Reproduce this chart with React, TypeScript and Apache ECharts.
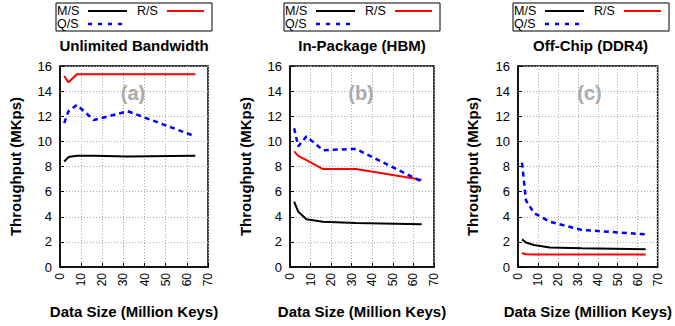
import React, { useEffect, useRef } from "react";
import * as echarts from "echarts";

const xs = [2, 4, 8, 16, 32, 64];
const msA = [8.4, 8.75, 8.85, 8.85, 8.8, 8.85];
const rsA = [15.2, 14.7, 15.35, 15.35, 15.35, 15.35];
const qsA = [11.45, 12.4, 12.9, 11.7, 12.4, 10.4];
const msB = [5.2, 4.4, 3.8, 3.6, 3.5, 3.4];
const rsB = [9.2, 8.85, 8.5, 7.8, 7.8, 6.95];
const qsB = [11.05, 9.6, 10.4, 9.3, 9.4, 6.8];
const msC = [2.2, 1.95, 1.75, 1.55, 1.5, 1.42];
const rsC = [1.12, 1.02, 1.0, 1.0, 1.0, 1.0];
const qsC = [8.3, 5.3, 4.3, 3.6, 2.95, 2.6];

const titles = ["Unlimited Bandwidth", "In-Package (HBM)", "Off-Chip (DDR4)"];
const tags = ["(a)", "(b)", "(c)"];
const seriesNames = ["M/S", "R/S", "Q/S"];
const yTicks = { min: 0, max: 16, interval: 2 };
const xTicks = { min: 0, max: 70, interval: 10 };

const FONT = "'Liberation Sans', Arial, Helvetica, sans-serif";
const grids = [
  { left: 60, width: 148, nameGap: 37 },
  { left: 290, width: 144, nameGap: 37 },
  { left: 518, width: 145, nameGap: 38 },
];
const legendX = [56, 284, 513];
const colors = ["#000000", "#ff0000", "#0000ff"];

function pairs(vals: number[]) {
  return xs.map((x, i) => [x, vals[i]]);
}

export default function App() {
  const ref = useRef<HTMLDivElement>(null);
  useEffect(() => {
    document.body.style.margin = "0";
    const chart = echarts.init(ref.current!, null, { renderer: "svg" });
    const data = [
      [msA, rsA, qsA],
      [msB, rsB, qsB],
      [msC, rsC, qsC],
    ];
    const series: any[] = [];
    data.forEach((panel, p) => {
      panel.forEach((vals, s) => {
        series.push({
          type: "line",
          name: seriesNames[s],
          xAxisIndex: p,
          yAxisIndex: p,
          data: pairs(vals),
          symbol: "none",
          z: s === 2 ? 4 : 3,
          lineStyle: {
            color: colors[s],
            width: s === 2 ? 2.5 : 2,
            type: s === 2 ? [5, 4] : "solid",
          },
        });
      });
    });

    const legText = (text: string, x: number, y: number) => ({
      type: "text",
      x,
      y,
      style: {
        text,
        font: `12.5px ${FONT}`,
        lineHeight: 12,
        fill: "#000",
        verticalAlign: "middle",
      },
    });

    const graphic: any[] = [];
    legendX.forEach((lx, p) => {
      const center = grids[p].left + grids[p].width / 2;
      graphic.push(
        {
          type: "rect",
          shape: { x: lx, y: 3, width: 156, height: 28 },
          style: { fill: "#fff", stroke: "#000", lineWidth: 1 },
        },
        legText(seriesNames[0], lx + 1, 10.5),
        {
          type: "line",
          shape: { x1: lx + 32, y1: 11, x2: lx + 71, y2: 11 },
          style: { stroke: colors[0], lineWidth: 2 },
        },
        legText(seriesNames[1], lx + 81, 10.5),
        {
          type: "line",
          shape: { x1: lx + 111, y1: 11, x2: lx + 148, y2: 11 },
          style: { stroke: colors[1], lineWidth: 2 },
        },
        legText(seriesNames[2], lx + 1, 24),
        {
          type: "line",
          shape: { x1: lx + 32, y1: 24, x2: lx + 66, y2: 24 },
          style: { stroke: colors[2], lineWidth: 2.5, lineDash: [4, 6] },
        },
        {
          type: "text",
          x: center,
          y: 45,
          style: {
            text: titles[p],
            font: `bold 15px ${FONT}`,
            fill: "#000",
            align: "center",
            verticalAlign: "middle",
          },
        },
        {
          type: "text",
          x: center - 1,
          y: 93,
          z: 10,
          style: {
            text: tags[p],
            font: `bold 20px ${FONT}`,
            fill: "#aaaaaa",
            align: "center",
            verticalAlign: "middle",
          },
        }
      );
    });

    chart.setOption({
      animation: false,
      textStyle: { fontFamily: FONT },
      grid: grids.map((g) => ({
        left: g.left,
        width: g.width,
        top: 66,
        height: 201,
        show: true,
        borderColor: "#000",
        borderWidth: 1.5,
        containLabel: false,
      })),
      xAxis: grids.map((g, i) => ({
        type: "value",
        gridIndex: i,
        min: xTicks.min,
        max: xTicks.max,
        interval: xTicks.interval,
        name: "Data Size (Million Keys)",
        nameLocation: "middle",
        nameGap: 37,
        nameTextStyle: { fontSize: 15, fontWeight: "bold", color: "#000", fontFamily: FONT },
        axisLine: { show: true, lineStyle: { color: "#000", width: 1.5 } },
        axisTick: { show: true, inside: true, length: 4, lineStyle: { color: "#000" } },
        axisLabel: { rotate: 90, fontSize: 12, color: "#000", margin: 6, fontFamily: FONT },
        splitLine: { show: true, lineStyle: { color: "#aaa", type: [1, 2], width: 1 } },
      })),
      yAxis: grids.map((g, i) => ({
        type: "value",
        gridIndex: i,
        min: yTicks.min,
        max: yTicks.max,
        interval: yTicks.interval,
        name: "Throughput (MKps)",
        nameLocation: "middle",
        nameGap: g.nameGap,
        nameTextStyle: { fontSize: 15, fontWeight: "bold", color: "#000", fontFamily: FONT },
        axisLine: { show: true, lineStyle: { color: "#000", width: 1.5 } },
        axisTick: { show: true, inside: true, length: 4, lineStyle: { color: "#000" } },
        axisLabel: { fontSize: 13, color: "#000", margin: 8, fontFamily: FONT },
        splitLine: { show: true, lineStyle: { color: "#aaa", type: [1, 2], width: 1 } },
      })),
      series,
      graphic,
    });
    return () => chart.dispose();
  }, []);
  return <div ref={ref} style={{ width: 675, height: 326 }} />;
}
